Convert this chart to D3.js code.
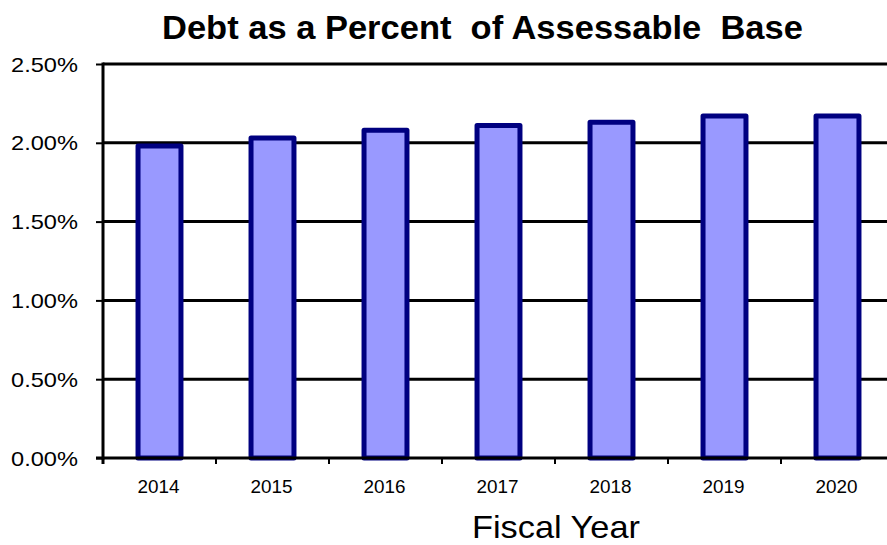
<!DOCTYPE html>
<html>
<head>
<meta charset="utf-8">
<script src="https://cdn.jsdelivr.net/npm/d3@7"></script>
<style>
html,body{margin:0;padding:0;background:#fff;}
svg{display:block;font-family:"Liberation Sans",Arial,sans-serif;}
</style>
</head>
<body>
<svg id="chart" width="887" height="545"></svg>
<script>
const years = ["2014","2015","2016","2017","2018","2019","2020"];
const debtPct = [1.98, 2.03, 2.08, 2.11, 2.13, 2.17, 2.17];
const yTicks = [0, 0.5, 1.0, 1.5, 2.0, 2.5];
const titleText = "Debt as a Percent  of Assessable  Base";
const xTitle = "Fiscal Year";

const svg = d3.select("#chart");
const pLeft = 103, pRight = 894, pTop = 64, pBottom = 458;

const x = d3.scaleBand().domain(years).range([pLeft, pRight]).paddingInner(0.62).paddingOuter(0.31);
const xb = d3.scaleBand().domain(years).range([pLeft, pRight]);
const y = d3.scaleLinear().domain([0, 2.5]).range([pBottom, pTop]);

// place text at (px,py) with anchor, horizontally scaled to width w
function fitText(sel, px, py, w) {
  sel.each(function() {
    const n = this.getComputedTextLength();
    const s = w / n;
    d3.select(this).attr("x", 0).attr("y", 0).attr("dy", null)
      .attr("transform", `translate(${px},${py}) scale(${s},1)`);
  });
}

// gridlines
svg.append("g").selectAll("line").data(yTicks.filter(d => d > 0)).join("line")
  .attr("x1", pLeft).attr("x2", pRight)
  .attr("y1", d => y(d)).attr("y2", d => y(d))
  .attr("stroke", "#000").attr("stroke-width", 3);

// bars
svg.append("g").selectAll("rect").data(years).join("rect")
  .attr("x", (d) => x(d))
  .attr("width", x.bandwidth())
  .attr("y", (d, i) => y(debtPct[i]))
  .attr("height", (d, i) => y(0) - y(debtPct[i]))
  .attr("fill", "#9999FF")
  .attr("stroke", "#000080")
  .attr("stroke-width", 5)
  .attr("stroke-linejoin", "round");

// y axis
const yAxis = d3.axisLeft(y).tickValues(yTicks).tickSize(7).tickPadding(17)
  .tickFormat(d => d3.format(".2f")(d) + "%");
const gy = svg.append("g").attr("transform", `translate(${pLeft},0)`).call(yAxis);
gy.select(".domain").attr("stroke", "#000").attr("stroke-width", 3).attr("d", `M0,${pTop - 1.5}V${pBottom + 1.5}`);
gy.selectAll(".tick line").attr("stroke", "#000").attr("stroke-width", 2);
const yt = gy.selectAll(".tick text").attr("font-size", 20).attr("fill", "#000")
  .attr("font-family", "Liberation Sans, Arial, sans-serif")
  .attr("text-anchor", "end");
fitText(yt, -25, 7, 67);

// x axis
const xAxis = d3.axisBottom(xb).tickSize(0).tickPadding(0);
const gx = svg.append("g").attr("transform", `translate(0,${pBottom})`).call(xAxis);
gx.select(".domain").attr("stroke", "#000").attr("stroke-width", 3).attr("d", `M${pLeft - 7},0H${pRight}`);
const xt = gx.selectAll(".tick text").attr("font-size", 19).attr("fill", "#000")
  .attr("font-family", "Liberation Sans, Arial, sans-serif")
  .attr("text-anchor", "middle");
fitText(xt, -1, 35, 42);
// boundary tick marks
svg.append("g").selectAll("line").data(years.slice(1)).join("line")
  .attr("x1", d => xb(d)).attr("x2", d => xb(d))
  .attr("y1", pBottom).attr("y2", pBottom + 6)
  .attr("stroke", "#000").attr("stroke-width", 2);
svg.append("line").attr("x1", pLeft).attr("x2", pLeft).attr("y1", pBottom).attr("y2", pBottom + 6)
  .attr("stroke", "#000").attr("stroke-width", 3);

// title
const tt = svg.append("text")
  .attr("font-size", 33).attr("font-weight", "bold").attr("fill", "#000")
  .style("white-space", "pre")
  .text(titleText);
fitText(tt, 162, 39, 641);

// x axis title
const xtt = svg.append("text")
  .attr("font-size", 31).attr("fill", "#000")
  .text(xTitle);
fitText(xtt, 472, 538, 168);
</script>
</body>
</html>
